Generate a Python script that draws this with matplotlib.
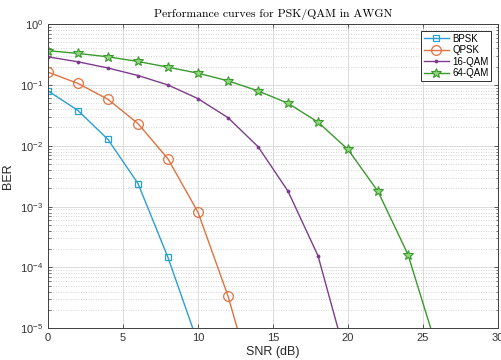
import numpy as np
import matplotlib
matplotlib.use("Agg")
import matplotlib.pyplot as plt
from matplotlib.ticker import LogLocator, NullFormatter

snr_bpsk = [0, 2, 4, 6, 8, 10]
ber_bpsk = [0.080, 0.038, 0.0127, 0.0024, 1.46e-4, 5.7e-6]

snr_qpsk = [0, 2, 4, 6, 8, 10, 12, 14]
ber_qpsk = [0.162, 0.106, 0.058, 0.0232, 0.0061, 8.1e-4, 3.4e-5, 6.5e-7]

snr_16qam = [0, 2, 4, 6, 8, 10, 12, 14, 16, 18, 20]
ber_16qam = [0.29, 0.24, 0.19, 0.143, 0.100, 0.0596, 0.029, 0.0097, 0.0018, 1.56e-4, 2.5e-6]

snr_64qam = [0, 2, 4, 6, 8, 10, 12, 14, 16, 18, 20, 22, 24, 26]
ber_64qam = [0.366, 0.33, 0.29, 0.243, 0.196, 0.156, 0.117, 0.080, 0.050,
             0.0245, 0.0087, 0.00178, 1.63e-4, 4.1e-6]

labels = ["BPSK", "QPSK", "16-QAM", "64-QAM"]
xticks = [0, 5, 10, 15, 20, 25, 30]

plt.rcParams['font.family'] = ['Liberation Sans', 'DejaVu Sans']

fig = plt.figure(figsize=(5.02, 3.6), dpi=100)
ax = fig.add_axes([0.0956, 0.088, 0.8964, 0.845])

c_blue = '#2a9fd4'
c_orange = '#e2713f'
c_purple = '#7e3c8c'
c_green = '#3a9a2e'

ax.semilogy(snr_bpsk, ber_bpsk, color=c_blue, lw=1.0, marker='s', ms=4.8,
            mfc='none', mew=0.9, label=labels[0])
ax.semilogy(snr_qpsk, ber_qpsk, color=c_orange, lw=1.0, marker='o', ms=7,
            mfc='none', mew=0.9, label=labels[1])
ax.semilogy(snr_16qam, ber_16qam, color=c_purple, lw=1.0, marker='.', ms=3.5,
            label=labels[2])
ax.semilogy(snr_64qam, ber_64qam, color=c_green, lw=1.0, marker='*', ms=7,
            mfc='#8fd67a', mew=0.8, label=labels[3])

ax.set_xlim(0, 30)
ax.set_ylim(1e-5, 1)
ax.set_xticks(xticks)
ax.yaxis.set_major_locator(LogLocator(base=10, numticks=10))
ax.yaxis.set_minor_locator(LogLocator(base=10, subs=np.arange(2, 10), numticks=20))
ax.yaxis.set_minor_formatter(NullFormatter())

ax.grid(True, which='major', color='#d6d6d6', lw=0.6, ls='-')
ax.grid(True, which='minor', axis='y', color='#c8c8c8', lw=0.6, ls=(0, (1, 2)))
ax.set_axisbelow(True)

ax.tick_params(which='both', direction='in', top=True, right=True,
               labelsize=8, color='#404040', labelcolor='#333333')
ax.tick_params(which='major', length=3, width=0.6)
ax.tick_params(which='minor', length=1.8, width=0.5)
for s in ax.spines.values():
    s.set_color('#404040')
    s.set_linewidth(0.7)

ax.set_xlabel("SNR (dB)", fontsize=9, labelpad=2, color='#262626')
ax.set_ylabel("BER", fontsize=9, labelpad=4, color='#262626')
ax.set_title("Performance curves for PSK/QAM in AWGN", fontsize=8.5,
             family='cmr10', pad=5)

leg = ax.legend(loc='upper right', fontsize=7, handlelength=2.6,
                fancybox=False, framealpha=1, edgecolor='#303030',
                borderpad=0.3, labelspacing=0.15, handletextpad=0.3,
                borderaxespad=0.7)
leg.get_frame().set_linewidth(0.7)

fig.savefig("out.png", dpi=100)
